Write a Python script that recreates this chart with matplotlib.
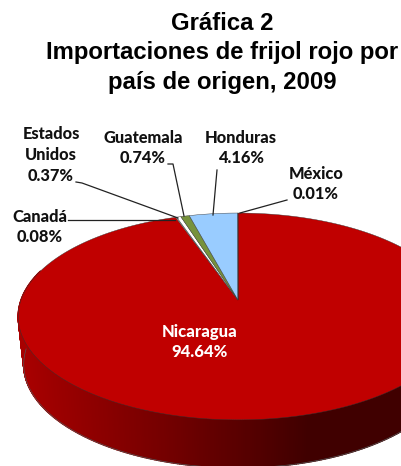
import numpy as np
import matplotlib
matplotlib.use('Agg')
import matplotlib.pyplot as plt
from matplotlib.collections import PolyCollection

title_text = 'Gráfica 2\nImportaciones de frijol rojo por\npaís de origen, 2009'
countries = ['Nicaragua', 'Canadá', 'Estados\nUnidos', 'Guatemala', 'Honduras', 'México']
shares = [94.64, 0.08, 0.37, 0.74, 4.16, 0.01]
colors = ['#C00000', '#FFFFFF', '#FFFFFF', '#76923C', '#99CCFF', '#99CCFF']

# pie geometry in pixels, the top is a circle seen in perspective
cx, cy = 238, 300
A, B, k = 217, 100.8, 0.159
depth = 48
shrink = 0.975


def rim(theta):
    u, v = np.sin(theta), np.cos(theta)
    s = 1 / (1 + k * v)
    return cx + A * u * s, cy - B * v * s


fig = plt.figure(figsize=(4.01, 4.66), dpi=100)
ax = fig.add_axes([0, 0, 1, 1])
ax.set_xlim(0, 401)
ax.set_ylim(466, 0)
ax.axis('off')

# side wall, coloured left to right, bottom ring slightly smaller
th = np.linspace(0, 2 * np.pi, 721)
xs, ys = rim(th)
xb = cx + (xs - cx) * shrink
yb = ys + depth
strips = []
strip_colors = []
c1 = np.array([0.66, 0, 0])
c2 = np.array([0.25, 0, 0])
for i in range(len(th) - 1):
    if np.cos((th[i] + th[i + 1]) / 2) > 0.3:
        continue
    strips.append([(xs[i], ys[i]), (xs[i + 1], ys[i + 1]), (xb[i + 1], yb[i + 1]), (xb[i], yb[i])])
    t = np.clip((xs[i] - 20) / 290, 0, 1)
    strip_colors.append(c1 + (c2 - c1) * t)
ax.add_collection(PolyCollection(strips, facecolors=strip_colors, edgecolors=strip_colors,
                                 linewidths=1.0))
ax.plot(xb[180:540], yb[180:540], color='#555555', lw=0.5)

# top face
start = 0
for share, col in zip(shares, colors):
    end = start + share / sum(shares) * 2 * np.pi
    tt = np.linspace(start, end, max(int(share * 8), 4))
    px, py = rim(tt)
    ax.fill(np.r_[cx, px], np.r_[cy, py], facecolor=col, edgecolor='#333333', lw=0.3)
    start = end

# leader lines
leaders = {
    'Canadá': ([68, 175], [220, 220]),
    'Estados Unidos': ([76, 82, 178], [182, 183, 218]),
    'Guatemala': ([168, 173, 184], [164, 164, 216]),
    'Honduras': ([217, 213], [170, 215]),
    'México': ([287, 240], [200, 213]),
}
for lx, ly in leaders.values():
    ax.plot(lx, ly, color='#222222', lw=0.9)

ax.text(222, 53, title_text, ha='center', va='center', family='Liberation Sans',
        fontweight='bold', fontsize=17.2, linespacing=1.37, color='black')

label_pos = {
    'Canadá': (40, 227),
    'Estados\nUnidos': (51, 155),
    'Guatemala': (143, 148),
    'Honduras': (241, 148),
    'México': (316, 184),
}
label_pct = {'Canadá': '0.08%', 'Estados\nUnidos': '0.37%', 'Guatemala': '0.74%',
             'Honduras': '4.16%', 'México': '0.01%'}
for name, (lx, ly) in label_pos.items():
    ax.text(lx, ly, name + '\n' + label_pct[name], ha='center', va='center',
            family='Lato', fontweight='black', fontsize=11.8, linespacing=1.38, color='#111111')

ax.text(200, 342, 'Nicaragua\n94.64%', ha='center', va='center', family='Lato',
        fontweight='black', fontsize=12, linespacing=1.38, color='white')

fig.savefig('out.png', dpi=100)
